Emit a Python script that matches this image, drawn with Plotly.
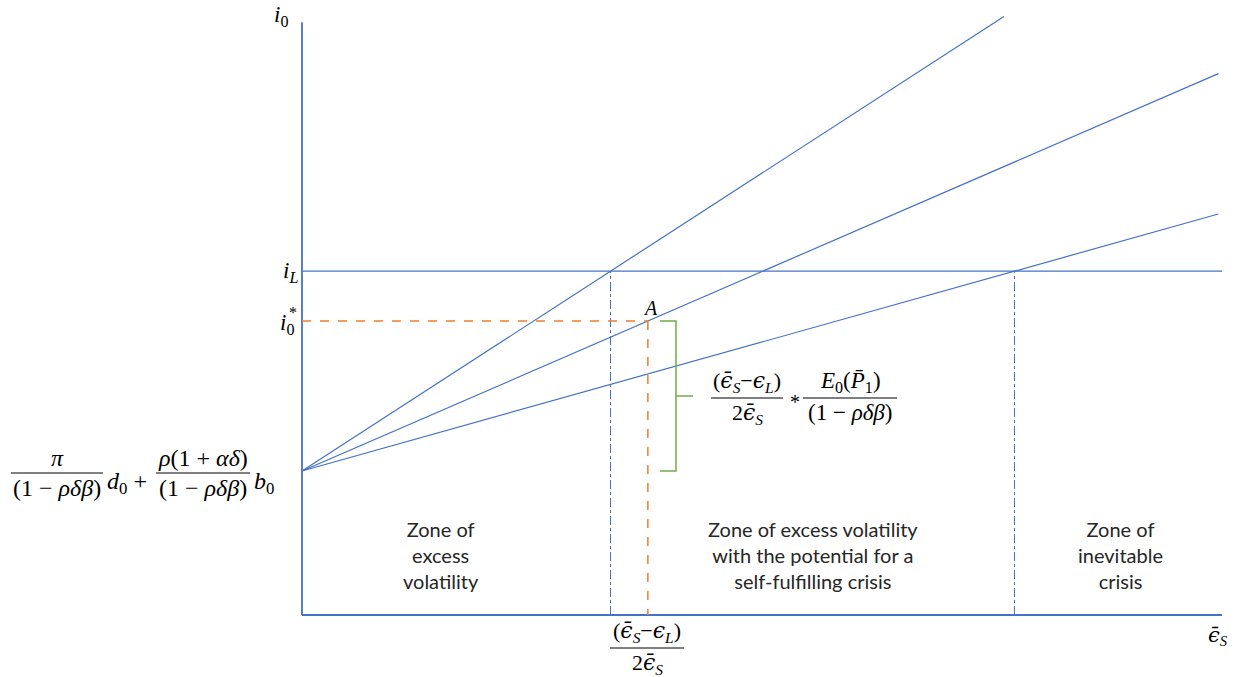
import plotly.graph_objects as go

# ---------------- data (model units: both axes 0..10) ----------------
intercept = 2.4                 # pi/(1-rho delta beta) d0 + ... b0
slopes = [0.993, 0.665, 0.43]   # three rays from the intercept
x_ends = [7.63, 9.96, 9.96]     # where each ray stops
i_L = 5.73                      # horizontal i_L level
i0_star = 4.9                   # i0* level (point A)
x_axis_end = 10.0
y_axis_end = 9.88

eps_low = (i_L - intercept) / slopes[0]     # first crossing of i_L
eps_high = (i_L - intercept) / slopes[2]    # last crossing of i_L
eps_A = (i0_star - intercept) / slopes[1]   # point A on middle ray
bracket_x = 4.065
bracket_tick = [3.89, 4.25]

zone_labels = ["Zone of<br>excess<br>volatility",
               "Zone of excess volatility<br>with the potential for a<br>self-fulfilling crisis",
               "Zone of<br>inevitable<br>crisis"]

BLUE = "#4472C4"
ORANGE = "#ED7D31"
GREEN = "#70AD47"
W, H = 1242, 677

fig = go.Figure()

def line(xs, ys, color=BLUE, width=1.2, dash="solid"):
    fig.add_trace(go.Scatter(x=xs, y=ys, mode="lines", hoverinfo="skip",
                             line=dict(color=color, width=width, dash=dash),
                             showlegend=False))

# axes
line([0, x_axis_end], [0, 0], width=1.8)
line([0, 0], [0, y_axis_end], width=1.8)
# rays
for s, xe in zip(slopes, x_ends):
    line([0, xe], [intercept, intercept + s * xe])
# i_L
line([0, x_axis_end], [i_L, i_L])
# dash-dot verticals
line([eps_low, eps_low], [0, i_L], width=1, dash="dashdot")
line([eps_high, eps_high], [0, i_L], width=1, dash="dashdot")
# orange dashed guides to A
line([0, eps_A], [i0_star, i0_star], color=ORANGE, width=1.5, dash="dash")
line([eps_A, eps_A], [i0_star, 0], color=ORANGE, width=1.5, dash="dash")
# green bracket
line([bracket_tick[0], bracket_x, bracket_x, bracket_tick[0]],
     [i0_star, i0_star, intercept, intercept], color=GREEN, width=1.5)
mid = (i0_star + intercept) / 2
line([bracket_x, bracket_tick[1]], [mid, mid], color=GREEN, width=1.5)

# ---------------- text ----------------
MATH = "Liberation Serif"
MS = 23
def ann(px, py, text, size=MS, font=MATH, color="black", xanchor="center", yanchor="middle"):
    fig.add_annotation(x=px / W, y=1 - py / H, xref="paper", yref="paper", text=text,
                       showarrow=False, xanchor=xanchor, yanchor=yanchor,
                       font=dict(family=font, size=size, color=color))

def frac(xc, ybar, num, den, half, size=MS, gap=0):
    ann(xc, ybar - gap, num, size=size, yanchor="bottom")
    ann(xc, ybar + gap, den, size=size, yanchor="top")
    fig.add_shape(type="line", xref="paper", yref="paper",
                  x0=(xc - half) / W, x1=(xc + half) / W,
                  y0=1 - ybar / H, y1=1 - ybar / H, line=dict(color="black", width=1))

EPSB = "<span style=\"font-family:'DejaVu Serif'\"><i>ϵ̄</i></span><sub><i>S</i></sub>"
EPSL = "<span style=\"font-family:'DejaVu Serif'\"><i>ϵ</i></span><sub><i>L</i></sub>"
DEN = "(1 − <i>ρδβ</i>)"

# left intercept formula
frac(57, 473, "<i>π</i>", DEN, 46, size=24)
ann(127, 483, "<i>d</i><sub>0</sub> +", size=24)
frac(203, 473, "<i>ρ</i>(1 + <i>αδ</i>)", DEN, 47, size=24)
ann(264, 483, "<i>b</i><sub>0</sub>", size=24)

# axis labels
ann(281, 16, "<i>i</i><sub>0</sub>")
ann(290, 272, "<i>i</i><sub><i>L</i></sub>")
ann(287, 324, "<i>i</i><sub>0</sub>")
ann(293, 313, "*", size=16)
ann(1218, 636, EPSB, size=21)
ann(650, 308, "<i>A</i>", size=20)

# bracket formula
frac(747, 398, "(" + EPSB + "−" + EPSL + ")", "2" + EPSB, 36, size=22)
ann(795, 402, "*", size=20)
frac(850, 398, "<i>E</i><sub>0</sub>(<i>P̄</i><sub>1</sub>)", DEN, 47)

# bottom tick label
frac(647, 648, "(" + EPSB + "−" + EPSL + ")", "2" + EPSB, 37, size=22)

# zone labels
ZF = "Lato"
ann(441, 555, zone_labels[0], size=20, font=ZF, color="#262626")
ann(813, 555, zone_labels[1], size=20, font=ZF, color="#262626")
ann(1120, 555, zone_labels[2], size=20, font=ZF, color="#262626")

fig.update_layout(
    width=W, height=H, margin=dict(l=0, r=0, t=0, b=0),
    plot_bgcolor="white", paper_bgcolor="white",
    xaxis=dict(range=[-302 / 92, 940 / 92], visible=False, fixedrange=True),
    yaxis=dict(range=[-62 / 60, 615 / 60], visible=False, fixedrange=True),
)

fig.write_html("out.html", config={"displayModeBar": False},
               post_script="document.body.style.margin='0';document.body.style.overflow='hidden';")
